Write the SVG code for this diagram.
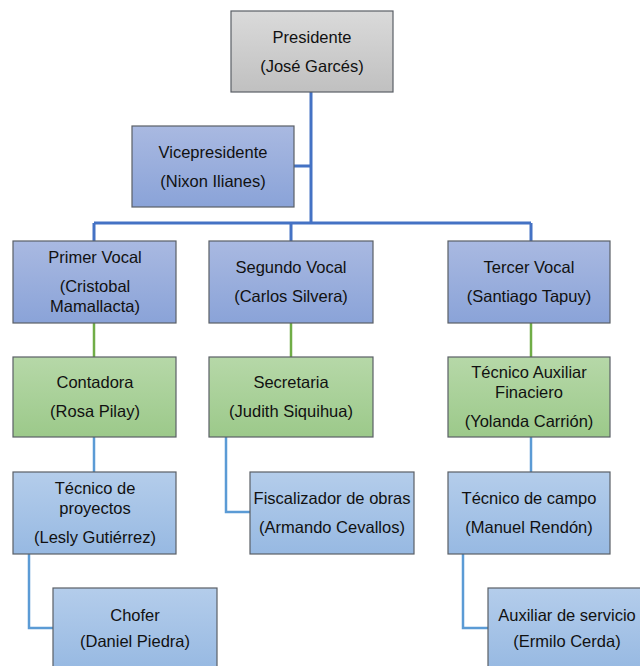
<svg xmlns="http://www.w3.org/2000/svg" width="640" height="666" viewBox="0 0 640 666">
<defs>
<linearGradient id="gGray" x1="0" y1="0" x2="0" y2="1"><stop offset="0" stop-color="#dadada"/><stop offset="1" stop-color="#c0c0c0"/></linearGradient>
<linearGradient id="gBlue" x1="0" y1="0" x2="0" y2="1"><stop offset="0" stop-color="#a9b9e1"/><stop offset="1" stop-color="#8aa3d8"/></linearGradient>
<linearGradient id="gGreen" x1="0" y1="0" x2="0" y2="1"><stop offset="0" stop-color="#b6d8a8"/><stop offset="1" stop-color="#9cc98a"/></linearGradient>
<linearGradient id="gLight" x1="0" y1="0" x2="0" y2="1"><stop offset="0" stop-color="#b4cdeb"/><stop offset="1" stop-color="#97b9e2"/></linearGradient>
</defs>
<style>
.box{stroke:#5a5f66;stroke-width:1.2}
.gray{fill:url(#gGray)}
.blue{fill:url(#gBlue)}
.green{fill:url(#gGreen)}
.light{fill:url(#gLight)}
text{font-family:"Liberation Sans",Arial,sans-serif;font-size:16.5px;fill:#111;text-anchor:middle}
.c1{fill:none;stroke:#4472c4;stroke-width:3}
.c2{fill:none;stroke:#70ad47;stroke-width:2.5}
.c3{fill:none;stroke:#5b9bd5;stroke-width:2.5}
</style>
<rect width="640" height="666" fill="#ffffff"/>
<g id="connectors">
<path class="c1" d="M311 92V223M294 166H311M94 223H531M94 223V241M291 223V241M531 223V241"/>
<path class="c2" d="M94 323V357M291 323V357M531 323V357"/>
<path class="c3" d="M94 437V472M226 437V512H250M531 437V472M29 554V628H53M463 554V628H488"/>
</g>
<g id="presidente"><rect class="box gray" x="231" y="11" width="162" height="81"/><text x="312" y="43">Presidente</text><text x="312" y="72">(José Garcés)</text></g>
<g id="vicepresidente"><rect class="box blue" x="132" y="126" width="162" height="81"/><text x="213" y="158">Vicepresidente</text><text x="213" y="187">(Nixon Ilianes)</text></g>
<g id="primer-vocal"><rect class="box blue" x="13" y="241" width="163" height="82"/><text x="95" y="263">Primer Vocal</text><text x="95" y="292">(Cristobal</text><text x="95" y="312">Mamallacta)</text></g>
<g id="segundo-vocal"><rect class="box blue" x="209" y="241" width="164" height="82"/><text x="291" y="273">Segundo Vocal</text><text x="291" y="302">(Carlos Silvera)</text></g>
<g id="tercer-vocal"><rect class="box blue" x="448" y="241" width="162" height="82"/><text x="529" y="273">Tercer Vocal</text><text x="529" y="302">(Santiago Tapuy)</text></g>
<g id="contadora"><rect class="box green" x="13" y="357" width="163" height="80"/><text x="95" y="388">Contadora</text><text x="95" y="417">(Rosa Pilay)</text></g>
<g id="secretaria"><rect class="box green" x="209" y="357" width="164" height="80"/><text x="291" y="388">Secretaria</text><text x="291" y="417">(Judith Siquihua)</text></g>
<g id="tecnico-auxiliar"><rect class="box green" x="448" y="357" width="162" height="80"/><text x="529" y="378">Técnico Auxiliar</text><text x="529" y="398">Finaciero</text><text x="529" y="427">(Yolanda Carrión)</text></g>
<g id="tecnico-proyectos"><rect class="box light" x="13" y="472" width="163" height="82"/><text x="95" y="494">Técnico de</text><text x="95" y="514">proyectos</text><text x="95" y="543">(Lesly Gutiérrez)</text></g>
<g id="fiscalizador"><rect class="box light" x="250" y="472" width="164" height="82"/><text x="332" y="504">Fiscalizador de obras</text><text x="332" y="533">(Armando Cevallos)</text></g>
<g id="tecnico-campo"><rect class="box light" x="448" y="472" width="162" height="82"/><text x="529" y="504">Técnico de campo</text><text x="529" y="533">(Manuel Rendón)</text></g>
<g id="chofer"><rect class="box light" x="53" y="588" width="164" height="82"/><text x="135" y="621">Chofer</text><text x="135" y="647">(Daniel Piedra)</text></g>
<g id="auxiliar-servicio"><rect class="box light" x="488" y="588" width="164" height="82"/><text x="567" y="621">Auxiliar de servicio</text><text x="567" y="647">(Ermilo Cerda)</text></g>
</svg>
